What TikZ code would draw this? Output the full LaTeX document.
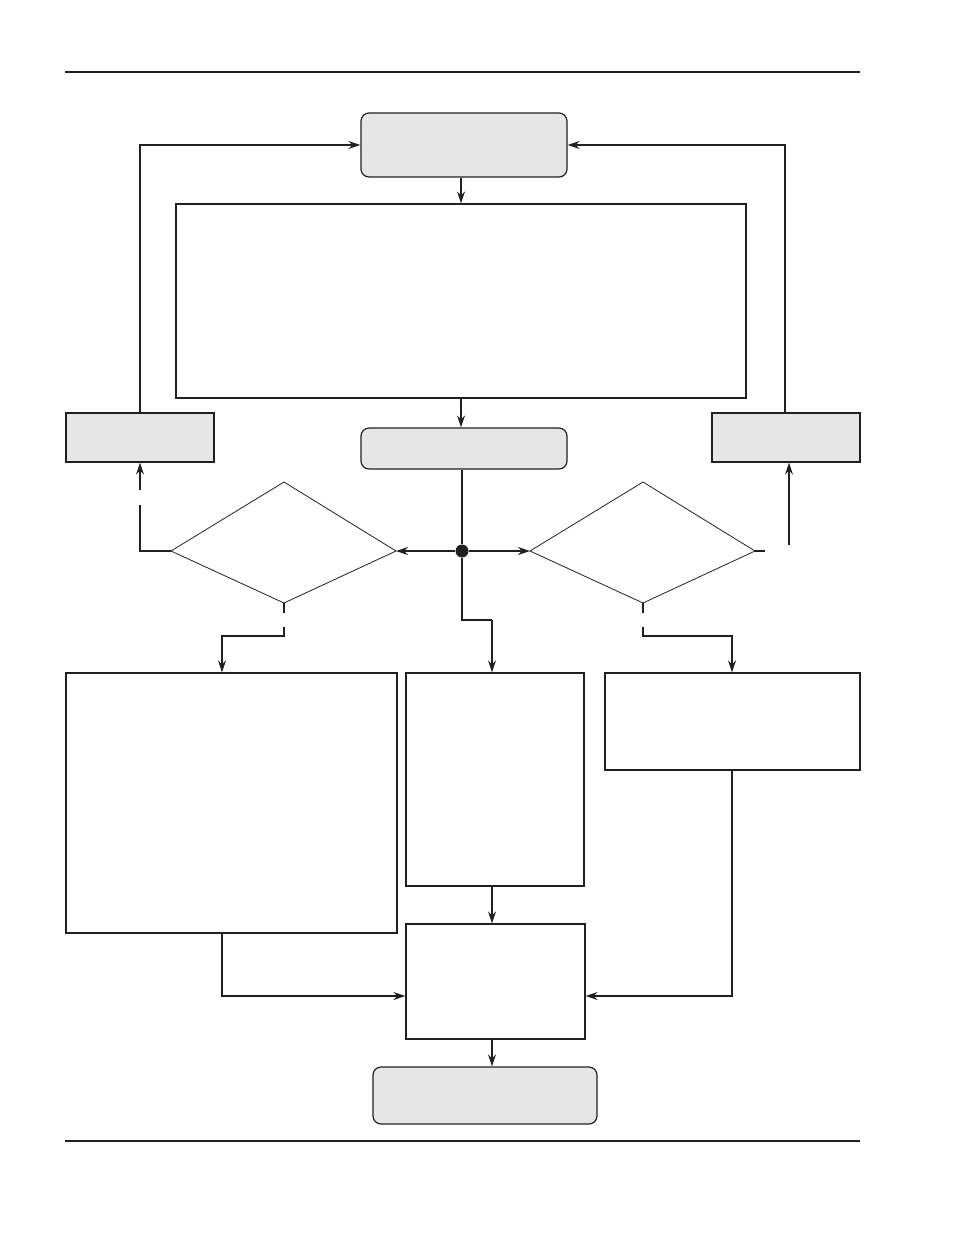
\documentclass[tikz,border=0pt]{standalone}
\usepackage{tikz}
\usepackage{xcolor}
\usetikzlibrary{arrows.meta,calc,positioning}
\definecolor{ink}{HTML}{231F20}
\definecolor{shade}{HTML}{E6E6E6}
\tikzset{
  box/.style={draw=ink,fill=white,line width=1.2pt,inner sep=0},
  greybox/.style={box,fill=shade},
  roundbox/.style={greybox,rounded corners=8pt},
  decision/.style={draw=ink,line width=0.8pt},
  flow/.style={-{Stealth[length=12pt,width=8pt]},line width=1.5pt,draw=ink},
  wire/.style={line width=1.5pt,draw=ink},
  rule/.style={line width=1.8pt,draw=ink}
}

\begin{document}
\begin{tikzpicture}[x=1pt,y=-1pt]
        \useasboundingbox (0,0) rectangle (954,1235);
        % page rules
        \draw[rule] (65,72) -- (860,72);
        \draw[rule] (65,1141) -- (860,1141);
        % boxes
        \node[roundbox,minimum width=206pt,minimum height=64pt] (start) at (464,145) {};
        \node[box,minimum width=570pt,minimum height=194pt] (task) at (461,301) {};
        \node[greybox,minimum width=148pt,minimum height=49pt] (leftbox) at (140,437.5) {};
        \node[roundbox,minimum width=206pt,minimum height=41pt] (midbox) at (464,448.5) {};
        \node[greybox,minimum width=148pt,minimum height=49pt] (rightbox) at (786,437.5) {};
        \node[box,minimum width=331pt,minimum height=260pt] (lowleft) at (231.5,803) {};
        \node[box,minimum width=178pt,minimum height=213pt] (lowmid) at (495,779.5) {};
        \node[box,minimum width=255pt,minimum height=97pt] (lowright) at (732.5,721.5) {};
        \node[box,minimum width=179pt,minimum height=115pt] (merge) at (495.5,981.5) {};
        \node[roundbox,minimum width=224pt,minimum height=57pt] (finish) at (485,1095.5) {};
        % decisions (corners)
        \coordinate (lchkW) at (171,551); \coordinate (lchkN) at (284,482);
        \coordinate (lchkE) at (396,551); \coordinate (lchkS) at (284,603);
        \coordinate (rchkW) at (530,551); \coordinate (rchkN) at (643,482);
        \coordinate (rchkE) at (755,551); \coordinate (rchkS) at (643,603);
        \draw[decision] (lchkW) -- (lchkN) -- (lchkE) -- (lchkS) -- cycle;
        \draw[decision] (rchkW) -- (rchkN) -- (rchkE) -- (rchkS) -- cycle;
        \node[circle,fill=ink,inner sep=0,minimum size=13pt] (hub) at (462,551) {};
        % free ends of the broken lines
        \coordinate (lgapA) at (140,505);
        \coordinate (lgapB) at (140,490);
        \coordinate (dgapA) at (284,613);
        \coordinate (dgapB) at (284,627);
        \coordinate (ldrop) at (222,636);
        \coordinate (rstub) at (765,551);
        \coordinate (rrise) at (789,545);
        \coordinate (egapA) at (643,613);
        \coordinate (egapB) at (643,627);
        \coordinate (rdrop) at (732,636);
        \coordinate (mturn) at (462,620);
        \coordinate (mcol) at (492,620);
        \coordinate (join) at (0,996);
        % connectors
        \draw[flow] (start.south -| task.north) -- (task.north);
        \draw[flow] (task.south) -- (midbox.north -| task.south);
        \draw[flow] (leftbox.north) |- (start.west);
        \draw[flow] (rightbox.north -| 785,0) |- (start.east);
        \draw[wire] (midbox.south -| hub) -- (hub);
        \draw[flow] (hub) -- (lchkE);
        \draw[flow] (hub) -- (rchkW);
        \draw[wire] (hub) -- (mturn) -- (mcol);
        \draw[flow] (mcol) -- (lowmid.north -| mcol);
        \draw[wire] (lchkW) -| (lgapA);
        \draw[flow] (lgapB) -- (leftbox.south);
        \draw[wire] (lchkS) -- (dgapA);
        \draw[flow] (dgapB) |- (ldrop) -- (lowleft.north -| ldrop);
        \draw[wire] (rchkE) -- (rstub);
        \draw[flow] (rrise) -- (rrise |- rightbox.south);
        \draw[wire] (rchkS) -- (egapA);
        \draw[flow] (egapB) |- (rdrop) -- (lowright.north -| rdrop);
        \draw[flow] (lowleft.south -| ldrop) |- (merge.west |- join);
        \draw[flow] (lowmid.south -| mcol) -- (merge.north -| mcol);
        \draw[flow] (lowright.south -| rdrop) |- (merge.east |- join);
        \draw[flow] (merge.south -| mcol) -- (finish.north -| mcol);
      \end{tikzpicture}
\end{document}
